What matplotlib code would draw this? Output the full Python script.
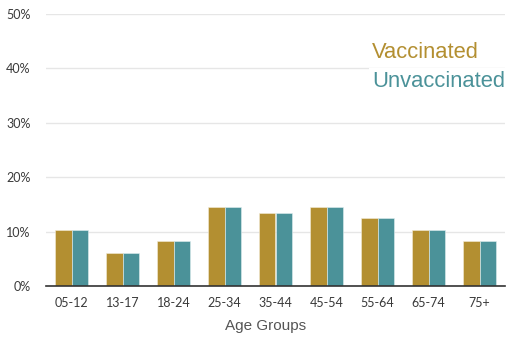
import matplotlib
matplotlib.use("Agg")
import matplotlib.pyplot as plt
import numpy as np
from matplotlib.ticker import FuncFormatter

age_groups = ["05-12", "13-17", "18-24", "25-34", "35-44", "45-54", "55-64", "65-74", "75+"]
vaccinated = [10.3, 6.1, 8.3, 14.5, 13.4, 14.5, 12.5, 10.3, 8.3]
unvaccinated = [10.3, 6.1, 8.3, 14.5, 13.4, 14.5, 12.5, 10.3, 8.3]
y_ticks = [0, 10, 20, 30, 40, 50]

gold = "#B38F31"
teal = "#4B9299"

fig = plt.figure(figsize=(5.07, 3.37), dpi=100)
ax = fig.add_axes([46 / 507, 1 - 286.3 / 337, 459 / 507, 272.6 / 337])

x = np.arange(len(age_groups))
w = 0.325
ax.bar(x - w / 2, vaccinated, w, color=gold, edgecolor="#f4ecd8", linewidth=0.4, zorder=3)
ax.bar(x + w / 2, unvaccinated, w, color=teal, edgecolor="#e0eef0", linewidth=0.4, zorder=3)

ax.set_xlim(-0.5, len(age_groups) - 0.5)
ax.set_ylim(0, 50)
ax.set_yticks(y_ticks)
ax.yaxis.set_major_formatter(FuncFormatter(lambda v, p: f"{v:.0f}%"))
ax.set_xticks(x)
ax.set_xticklabels(age_groups)

ax.grid(axis="y", color="#e6e6e6", linewidth=1, zorder=0)
ax.set_axisbelow(True)
for s in ["top", "right", "left"]:
    ax.spines[s].set_visible(False)
ax.spines["bottom"].set_color("#333333")
ax.spines["bottom"].set_linewidth(1.2)
ax.spines["bottom"].set_zorder(4)
ax.tick_params(axis="both", length=0, labelsize=9, colors="#3a3a3a")
ax.tick_params(axis="x", pad=8)
ax.tick_params(axis="y", pad=11)
for lab in ax.get_xticklabels() + ax.get_yticklabels():
    lab.set_family("Lato")

fig.text(266 / 507, 1 - 326 / 337, "Age Groups", ha="center", va="center",
         fontsize=11, color="#555555", family="Liberation Sans")

fig.text(372 / 507, 1 - 58 / 337, "Vaccinated", ha="left", va="baseline",
         fontsize=15.8, color=gold, family="Liberation Sans",
         bbox=dict(facecolor="white", edgecolor="none", pad=2))
fig.text(372 / 507, 1 - 87 / 337, "Unvaccinated", ha="left", va="baseline",
         fontsize=15.8, color=teal, family="Liberation Sans",
         bbox=dict(facecolor="white", edgecolor="none", pad=2))

fig.savefig("out.png", dpi=100)
